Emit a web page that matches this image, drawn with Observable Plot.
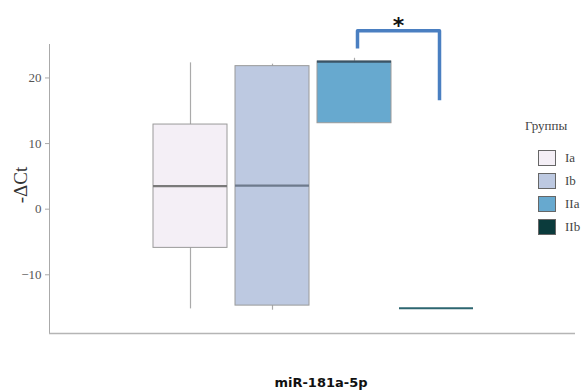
<!DOCTYPE html>
<html>
<head>
<meta charset="utf-8">
<script src="https://cdn.jsdelivr.net/npm/d3@7"></script>
<script src="https://cdn.jsdelivr.net/npm/@observablehq/plot@0.6"></script>
<style>
  html, body { margin: 0; padding: 0; background: #fff; }
  #wrap { position: relative; width: 583px; height: 392px; overflow: hidden; }
  #wrap svg { position: absolute; left: 0; top: 0; overflow: visible; }
  #wrap svg g[aria-label="y-axis tick label"] text { fill: #555; }
  .ylab { position: absolute; left: 21px; top: 185px; transform: translate(-50%, -50%) rotate(-90deg);
          font: 19px "Liberation Serif", serif; color: #333; white-space: nowrap; }
  .xlab { position: absolute; left: 321px; top: 382px; transform: translate(-50%, -50%);
          font: bold 13px "DejaVu Sans", sans-serif; color: #111; white-space: nowrap; }
  .legend { position: absolute; left: 525px; top: 118px; font-family: "Liberation Serif", serif; color: #444; }
  .legend .title { font-size: 13px; margin-bottom: 12px; }
  .legend .item { display: flex; align-items: center; height: 23px; margin-left: 13px; font-size: 13px; }
  .legend .sw { width: 18px; height: 16px; border: 1px solid #666; box-sizing: border-box; margin-right: 9px; }
</style>
</head>
<body>
<div id="wrap"></div>
<script>
// Groups and box statistics of -ΔCt for miR-181a-5p
const groups  = ["Ia", "Ib", "IIa", "IIb"];
const mins    = [-15.2, -15.4, 13.1, -15.1];
const q1s     = [-5.9, -14.7, 13.1, -15.1];
const medians = [3.5, 3.6, 22.5, -15.1];
const q3s     = [12.9, 21.8, 22.5, -15.1];
const maxs    = [22.3, 22.1, 23.0, -15.1];
const fills   = ["#f4eff6", "#bdc9e1", "#67a9cf", "#0b3b3c"];
const medianColors = ["#7a7a7a", "#6e7a8c", "#3b5466", "#2d6670"];
const yTicks  = [-10, 0, 10, 20];
const yDomain = [-18.95, 25.1];

// Significance bracket between IIa and IIb
const bracket = [
  {g: "IIa", v: 24.5}, {g: "IIa", v: 27.2},
  {g: "IIb", v: 27.2}, {g: "IIb", v: 16.6}
];

const rows = groups.map((g, i) => ({
  g, min: mins[i], q1: q1s[i], med: medians[i], q3: q3s[i], max: maxs[i],
  fill: fills[i], mc: medianColors[i]
}));

const chart = Plot.plot({
  width: 583,
  height: 392,
  marginTop: 44,
  marginBottom: 59,
  marginLeft: 49,
  marginRight: 8,
  style: {fontFamily: "'Liberation Serif', serif", fontSize: "13px", color: "#aaa", background: "transparent"},
  x: {domain: groups, range: [148, 477], paddingInner: 0.1, paddingOuter: 0.05, axis: null},
  y: {domain: yDomain, ticks: yTicks, tickSize: 4, tickPadding: 4, label: null, line: true},
  marks: [
    Plot.ruleY([yDomain[0]], {stroke: "#b5b5b5", strokeWidth: 1.5}),
    Plot.ruleX(rows, {x: "g", y1: "min", y2: "max", stroke: "#aaaaaa", strokeWidth: 1.2}),
    Plot.barY(rows, {x: "g", y1: "q1", y2: "q3", fill: "fill", stroke: "#9a9a9a", strokeWidth: 1}),
    Plot.tickY(rows, {x: "g", y: "med", stroke: "mc", strokeWidth: 2.2}),
    Plot.line(bracket, {x: "g", y: "v", dx: 3, stroke: "#4a7fc1", strokeWidth: 3.5, strokeLinejoin: "round", strokeLinecap: "butt"}),
    Plot.text([{g: "IIa", v: 27.2}], {x: "g", y: "v", text: () => "*", dx: 44, dy: 2, lineAnchor: "bottom",
      fontSize: 22, fontWeight: "bold", fontFamily: "'DejaVu Sans', sans-serif", fill: "#111"})
  ]
});

const wrap = document.getElementById("wrap");
wrap.appendChild(chart);

const ylab = document.createElement("div");
ylab.className = "ylab";
ylab.textContent = "-ΔCt";
wrap.appendChild(ylab);

const xlab = document.createElement("div");
xlab.className = "xlab";
xlab.textContent = "miR-181a-5p";
wrap.appendChild(xlab);

const legend = document.createElement("div");
legend.className = "legend";
legend.innerHTML = `<div class="title">Группы</div>` +
  groups.map((g, i) => `<div class="item"><span class="sw" style="background:${fills[i]}"></span>${g}</div>`).join("");
wrap.appendChild(legend);
</script>
</body>
</html>
